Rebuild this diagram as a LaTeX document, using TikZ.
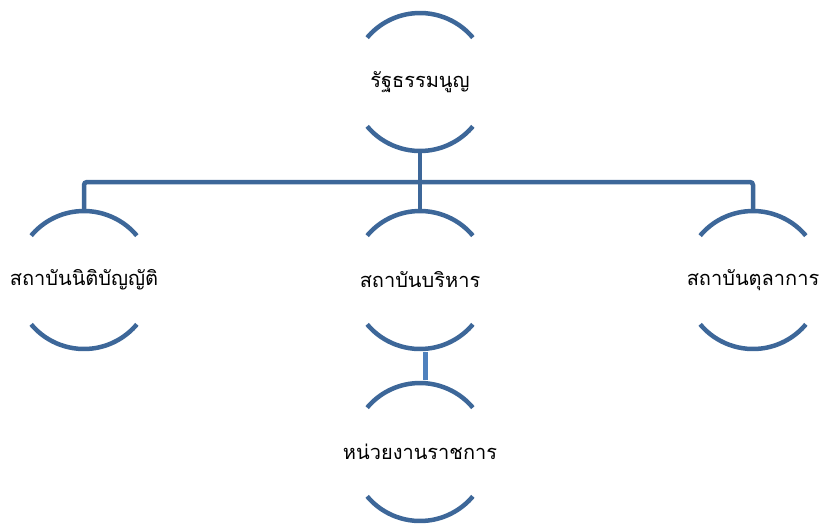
\documentclass[tikz,border=0pt]{standalone}
\usepackage{fontspec}
\newfontfamily\thaifont[Script=Thai]{Loma}
\definecolor{arcblue}{RGB}{61,103,153}
\definecolor{subblue}{RGB}{79,129,189}
\tikzset{
  unit/.style={circle,minimum size=138pt,inner sep=0pt,outer sep=0pt,font=\thaifont\fontsize{20}{24}\selectfont},
  arcline/.style={draw=arcblue,line width=4.5pt},
  link/.style={draw=arcblue,line width=4.5pt,rounded corners=3pt},
  sublink/.style={draw=subblue,line width=4.5pt}
}
\newcommand{\unitarcs}[1]{%
  \draw[arcline] (#1.40) arc[start angle=40,end angle=140,radius=69pt];
  \draw[arcline] (#1.220) arc[start angle=220,end angle=320,radius=69pt];}
\begin{document}
\begin{tikzpicture}[x=1pt,y=1pt]
\useasboundingbox (0,0) rectangle (819,-525);
\node[unit] (const) at (420,-82) {\makebox[0pt]{รัฐธรรมนูญ}};
\node[unit] (leg) at (84,-280) {\makebox[0pt]{สถาบันนิติบัญญัติ}};
\node[unit] (exe) at (420,-280) {\makebox[0pt]{สถาบันบริหาร}};
\node[unit] (jud) at (753,-280) {\makebox[0pt]{สถาบันตุลาการ}};
\node[unit] (gov) at (420,-452) {\makebox[0pt]{หน่วยงานราชการ}};
\unitarcs{const}
\unitarcs{leg}
\unitarcs{exe}
\unitarcs{jud}
\unitarcs{gov}
\coordinate (bus) at (420,-182);
\draw[link] (const.south) -- (bus);
\draw[link] (bus) -| (leg.north);
\draw[link] (bus) -| (jud.north);
\draw[link] (bus) -- (exe.north);
\draw[sublink,shorten <=3pt,shorten >=3pt] ([xshift=5.5pt]exe.south) -- ([xshift=5.5pt]gov.north);
\end{tikzpicture}
\end{document}
